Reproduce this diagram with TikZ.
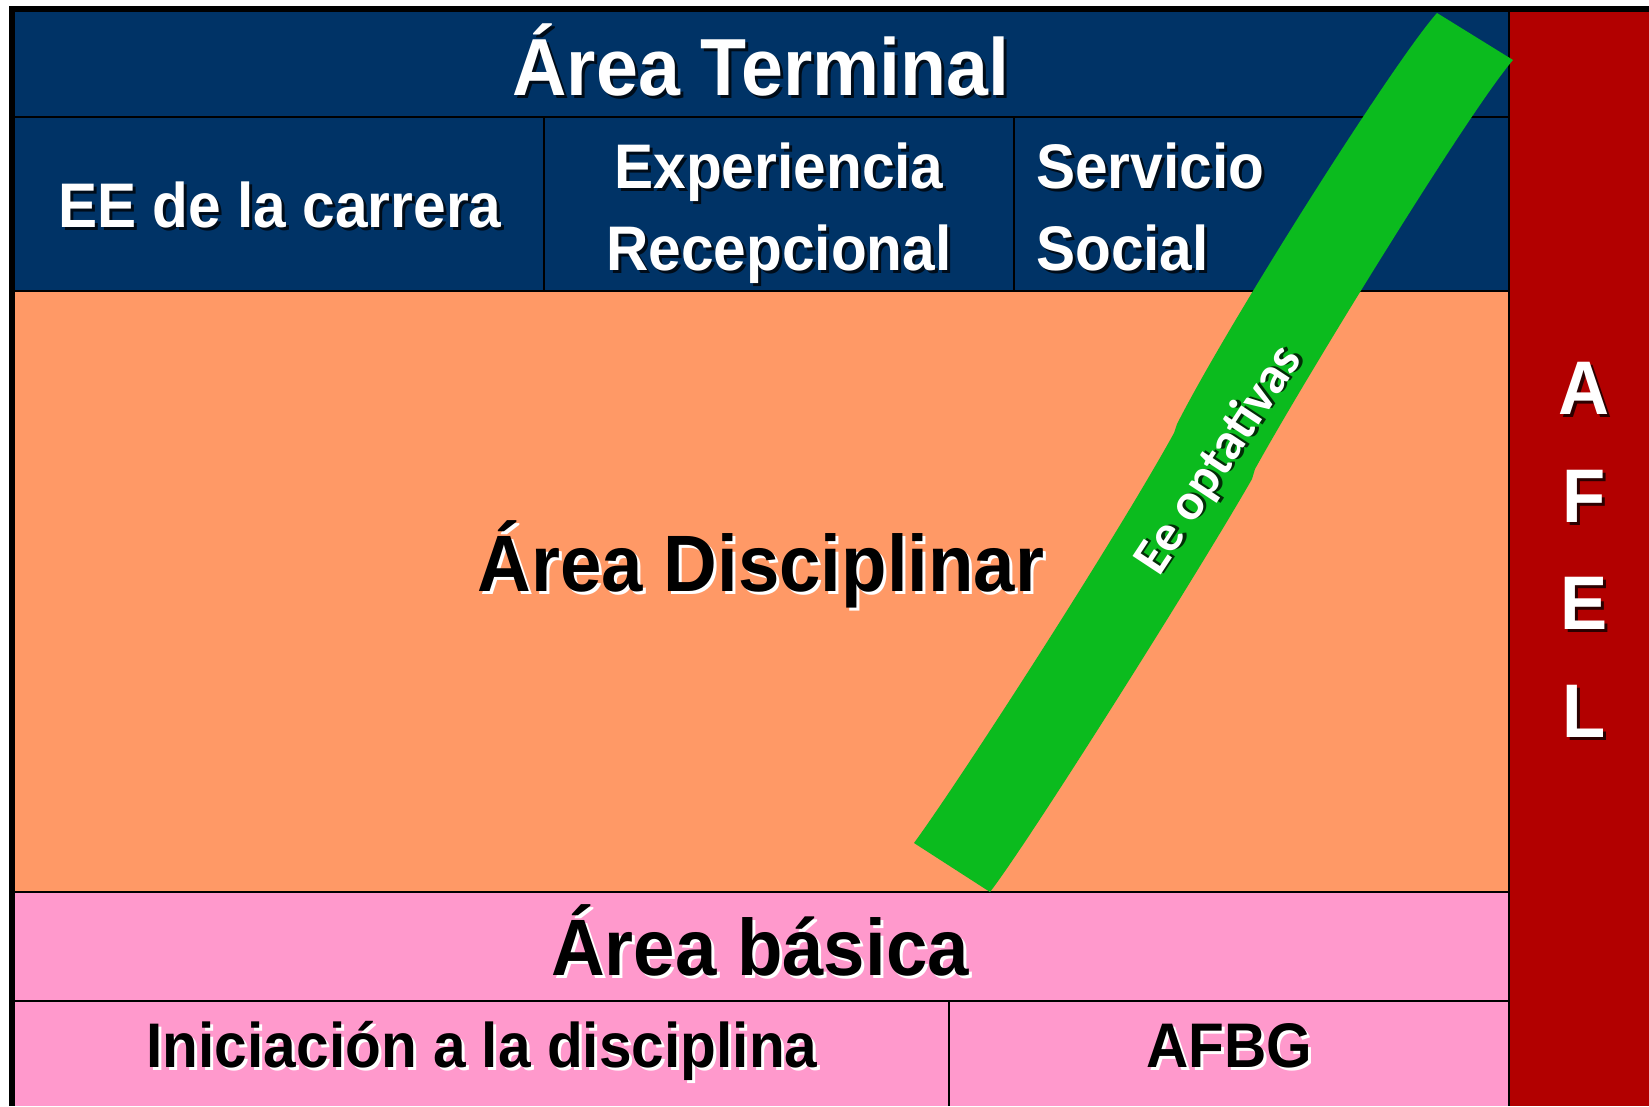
\documentclass[tikz,border=0pt]{standalone}
\usepackage{fontspec}
\setmainfont{Liberation Sans}[FakeStretch=0.93]
\newfontfamily\carl{Carlito}
\definecolor{tblue}{RGB}{0,51,102}
\definecolor{torange}{RGB}{255,153,102}
\definecolor{tpink}{RGB}{255,153,204}
\definecolor{tred}{RGB}{178,0,0}
\definecolor{tgreen}{RGB}{11,187,30}
\newcommand\wlabel[4]{\node[#3,text=black,text opacity=.75,xshift=3pt,yshift=-3pt] at (#2) {#4};\node[#3,text=white] (#1) at (#2) {#4};}
\newcommand\blabel[4]{\node[#3,text=white,xshift=3pt,yshift=-3pt] at (#2) {#4};\node[#3,text=black] (#1) at (#2) {#4};}
\begin{document}
\begin{tikzpicture}[x=1pt,y=-1pt,
  gridline/.style={line width=2.6pt,black},
  title/.style={anchor=base,inner sep=0pt,font=\fontsize{80}{96}\selectfont\bfseries},
  sub/.style={anchor=base,inner sep=0pt,font=\fontsize{63}{80}\selectfont\bfseries},
  subl/.style={anchor=base west,inner sep=0pt,font=\fontsize{63}{80}\selectfont\bfseries},
  afel/.style={anchor=base,inner sep=0pt,font=\fontsize{76}{90}\selectfont\bfseries},
  opt/.style={anchor=base,inner sep=0pt,rotate=56.6,font=\carl\fontsize{52}{60}\selectfont\bfseries}]
\useasboundingbox (0,0) rectangle (1649,1106);
\fill[white] (0,0) rectangle (1649,1106);
% areas
\fill[tblue] (15,12) rectangle (1509,291);
\fill[torange] (15,291) rectangle (1509,892);
\fill[tpink] (15,892) rectangle (1509,1106);
\fill[tred] (1509,12) rectangle (1649,1106);
% grid lines
\draw[gridline] (15,117) -- (1509,117);
\draw[gridline] (15,291) -- (1509,291);
\draw[gridline] (15,892) -- (1509,892);
\draw[gridline] (15,1001) -- (1509,1001);
\draw[gridline] (544,117) -- (544,291);
\draw[gridline] (1014,117) -- (1014,291);
\draw[gridline] (949,1001) -- (949,1106);
\draw[gridline] (1509,12) -- (1509,1106);
% green band
\fill[tgreen] (1437,13) .. controls (1395,60) and (1230,320) .. (1177,424)
  -- (1174,433)
  .. controls (1115,540) and (960,780) .. (914,843)
  -- (990,892)
  .. controls (1030,840) and (1200,570) .. (1252,479)
  -- (1255,469)
  .. controls (1310,370) and (1470,110) .. (1513,60) -- cycle;
% outer border
\fill[black] (9,6) rectangle (1649,12);
\fill[black] (9,6) rectangle (15,1106);
% texts
\wlabel{terminal}{761,95}{title,font=\fontsize{81}{96}\selectfont\bfseries}{Área Terminal}
\wlabel{carrera}{280,227}{sub}{EE de la carrera}
\wlabel{exp1}{779,188}{sub}{Experiencia}
\wlabel{exp2}{779,270}{sub}{Recepcional}
\wlabel{ser1}{1036,188}{subl}{Servicio}
\wlabel{ser2}{1036,270}{subl}{Social}
\blabel{disc}{761,591}{title}{Área Disciplinar}
\blabel{basica}{760,975}{title}{Área básica}
\blabel{inic}{482,1067}{sub}{Iniciación a la disciplina}
\blabel{afbg}{1229,1067}{sub}{AFBG}
\wlabel{afa}{1584,414}{afel}{A}
\wlabel{afb}{1584,522}{afel}{F}
\wlabel{afc}{1584,629}{afel}{E}
\wlabel{afd}{1584,737}{afel}{L}
\node[opt,text=black,text opacity=.75,xshift=2.5pt,yshift=-2.5pt] at (1231,468) {Ee optativas};
\node[opt,text=white] (optativas) at (1231,468) {Ee optativas};
\end{tikzpicture}
\end{document}
